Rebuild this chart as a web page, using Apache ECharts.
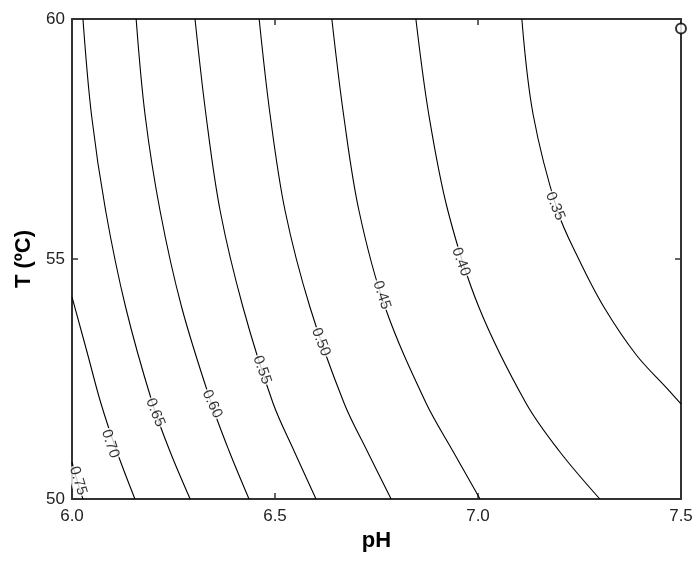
<!DOCTYPE html>
<html>
<head>
<meta charset="utf-8">
<script src="https://cdn.jsdelivr.net/npm/echarts@6/dist/echarts.min.js"></script>
<style>
  html, body { margin: 0; padding: 0; background: #fff; }
  #chart { width: 696px; height: 563px; }
</style>
</head>
<body>
<div id="chart"></div>
<script>
// contour levels as [pH, T] pairs
const levels = ['0.75', '0.70', '0.65', '0.60', '0.55', '0.50', '0.45', '0.40', '0.35']

const c075 = [[6.000, 50.77], [6.012, 50.40], [6.027, 50.00]]
const c070 = [[6.000, 54.21], [6.039, 53.00], [6.071, 52.00], [6.110, 51.00], [6.155, 50.00]]
const c065 = [[6.027, 60], [6.048, 58], [6.083, 56], [6.132, 54], [6.198, 52], [6.241, 51], [6.291, 50]]
const c060 = [[6.158, 60], [6.180, 58], [6.217, 56], [6.270, 54], [6.343, 52], [6.387, 51], [6.436, 50]]
const c055 = [[6.303, 60], [6.330, 58], [6.365, 56], [6.421, 54], [6.495, 52], [6.547, 51], [6.601, 50]]
const c050 = [[6.461, 60], [6.488, 58], [6.525, 56], [6.586, 54], [6.670, 52], [6.727, 51], [6.786, 50]]
const c045 = [[6.640, 60], [6.669, 58], [6.707, 56], [6.771, 54], [6.872, 52], [6.938, 51], [7.005, 50]]
const c040 = [[6.847, 60], [6.879, 58], [6.926, 56], [7.002, 54], [7.118, 52], [7.200, 51], [7.300, 50]]
const c035 = [[7.108, 60], [7.136, 58], [7.196, 56], [7.248, 55], [7.310, 54], [7.390, 53], [7.466, 52.3], [7.500, 51.98]]

const contours = [c075, c070, c065, c060, c055, c050, c045, c040, c035]

// where each level's label sits on its line
const labelSpots = [
    [6.015, 50.38], [6.094, 51.15], [6.205, 51.80], [6.345, 51.98], [6.468, 52.69],
    [6.613, 53.27], [6.763, 54.25], [6.958, 54.94], [7.190, 56.10],
]
const labelAngles = [-73, -72, -68, -65, -71, -69, -72, -70, -68]

// the open circle in the top right corner
const optimum = [[7.5, 59.8]]

const xTicks = [6.0, 6.5, 7.0, 7.5]
const yTicks = [50, 55, 60]

const FONT = '"Liberation Sans", Arial, sans-serif'
const AXIS_COLOR = '#333'

const chart = echarts.init(document.getElementById('chart'), null, { renderer: 'canvas' })

const boxAxis = (extra) => Object.assign({
    type: 'value',
    axisLine: { show: true, onZero: false, lineStyle: { color: AXIS_COLOR, width: 2 } },
    axisTick: { show: true, inside: true, length: 6, lineStyle: { color: AXIS_COLOR, width: 1.5 } },
    splitLine: { show: false },
}, extra)

const series = contours.map((pts, i) => ({
    type: 'line',
    name: levels[i],
    data: pts,
    showSymbol: false,
    symbol: 'none',
    smooth: 0.35,
    clip: true,
    lineStyle: { color: '#000', width: 1.1 },
    z: 2,
}))

series.push({
    type: 'scatter',
    data: labelSpots.map((p, i) => ({
        value: p,
        label: { rotate: labelAngles[i], formatter: levels[i] },
    })),
    symbolSize: 0,
    label: {
        show: true,
        position: 'inside',
        color: '#000',
        fontSize: 15,
        fontFamily: FONT,
        backgroundColor: '#fff',
        padding: [0, 1],
    },
    z: 5,
})

series.push({
    type: 'scatter',
    data: optimum,
    symbol: 'emptyCircle',
    symbolSize: 10,
    itemStyle: { color: '#000', borderColor: '#000', borderWidth: 1 },
    z: 6,
})

chart.setOption({
    animation: false,
    backgroundColor: '#fff',
    grid: { left: 72, right: 15, top: 19, bottom: 64 },
    xAxis: [
        boxAxis({
            position: 'bottom',
            min: xTicks[0], max: xTicks[xTicks.length - 1], interval: 0.5,
            name: 'pH',
            nameLocation: 'middle',
            nameGap: 30,
            nameTextStyle: { fontSize: 22, fontWeight: 'bold', color: '#000', fontFamily: FONT },
            axisLabel: {
                color: '#222', fontSize: 17, fontFamily: FONT, margin: 9,
                formatter: (v) => v.toFixed(1),
            },
        }),
        boxAxis({
            position: 'top',
            min: xTicks[0], max: xTicks[xTicks.length - 1], interval: 0.5,
            axisLabel: { show: false },
        }),
    ],
    yAxis: [
        boxAxis({
            position: 'left',
            min: yTicks[0], max: yTicks[yTicks.length - 1], interval: 5,
            name: 'T (ºC)',
            nameLocation: 'middle',
            nameGap: 36,
            nameTextStyle: { fontSize: 22, fontWeight: 'bold', color: '#000', fontFamily: FONT },
            axisLabel: { color: '#222', fontSize: 17, fontFamily: FONT, margin: 7 },
        }),
        boxAxis({
            position: 'right',
            min: yTicks[0], max: yTicks[yTicks.length - 1], interval: 5,
            axisLabel: { show: false },
        }),
    ],
    series,
})
</script>
</body>
</html>
